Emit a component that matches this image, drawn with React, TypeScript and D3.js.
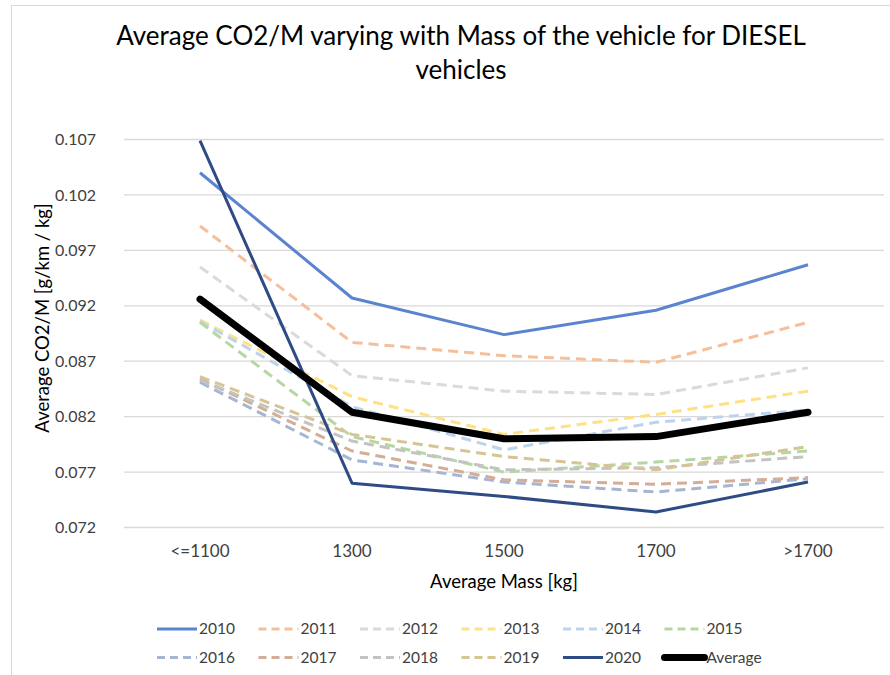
import React, { useEffect, useRef } from 'react';
import * as d3 from 'd3';

const categories = ['<=1100', '1300', '1500', '1700', '>1700'];
const yTicks = [0.072, 0.077, 0.082, 0.087, 0.092, 0.097, 0.102, 0.107];

const y2010 = [0.104, 0.0927, 0.0894, 0.0916, 0.0957];
const y2011 = [0.0992, 0.0887, 0.0875, 0.0869, 0.0905];
const y2012 = [0.0955, 0.0857, 0.0843, 0.084, 0.0864];
const y2013 = [0.0907, 0.0838, 0.0804, 0.0822, 0.0843];
const y2014 = [0.0906, 0.0829, 0.079, 0.0815, 0.0826];
const y2015 = [0.0905, 0.0802, 0.077, 0.0779, 0.0789];
const y2016 = [0.0851, 0.0781, 0.0761, 0.0752, 0.0764];
const y2017 = [0.0854, 0.0789, 0.0763, 0.0759, 0.0765];
const y2018 = [0.0853, 0.0798, 0.0772, 0.0774, 0.0784];
const y2019 = [0.0856, 0.0804, 0.0784, 0.0772, 0.0793];
const y2020 = [0.1069, 0.076, 0.0748, 0.0734, 0.0761];
const yAverage = [0.0926, 0.0824, 0.08, 0.0802, 0.0824];

const seriesNames = ['2010', '2011', '2012', '2013', '2014', '2015', '2016', '2017', '2018', '2019', '2020', 'Average'];
const seriesValues = [y2010, y2011, y2012, y2013, y2014, y2015, y2016, y2017, y2018, y2019, y2020, yAverage];

const FONT = 'Lato, "Open Sans", sans-serif';

export default function App() {
  const svgRef = useRef<SVGSVGElement>(null);

  useEffect(() => {
    const svg = d3.select(svgRef.current);
    svg.selectAll('*').remove();

    // look of each series (Excel-ish palette, lighter dashed years)
    const styles: Record<string, { color: string; width: number; dash: string | null }> = {
      '2010': { color: '#5b84d0', width: 3, dash: null },
      '2011': { color: '#f6bf9c', width: 3, dash: '10,6' },
      '2012': { color: '#dadada', width: 3, dash: '10,6' },
      '2013': { color: '#ffe083', width: 3, dash: '10,6' },
      '2014': { color: '#bcd3ee', width: 3, dash: '10,6' },
      '2015': { color: '#b7d7a2', width: 3, dash: '10,6' },
      '2016': { color: '#a5b5d3', width: 3, dash: '10,6' },
      '2017': { color: '#d3ad95', width: 3, dash: '10,6' },
      '2018': { color: '#c3c3c3', width: 3, dash: '10,6' },
      '2019': { color: '#d6c494', width: 3, dash: '10,6' },
      '2020': { color: '#2f4b86', width: 3, dash: null },
      Average: { color: '#000000', width: 7, dash: null },
    };

    // outer chart border
    svg.append('rect')
      .attr('x', 11.5).attr('y', 5.5)
      .attr('width', 1000).attr('height', 1000)
      .attr('fill', '#fff')
      .attr('stroke', '#d9d9d9');

    const x = d3.scaleBand().domain(categories).range([124, 884]);
    const y = d3.scaleLinear().domain([0.072, 0.107]).range([527.5, 139.5]);

    // gridlines
    svg.append('g')
      .selectAll('line')
      .data(yTicks)
      .enter()
      .append('line')
      .attr('x1', 124).attr('x2', 884)
      .attr('y1', (d) => y(d)).attr('y2', (d) => y(d))
      .attr('stroke', '#d9d9d9')
      .attr('stroke-width', 1.3);

    // y tick labels
    svg.append('g')
      .selectAll('text')
      .data(yTicks)
      .enter()
      .append('text')
      .attr('x', 96)
      .attr('y', (d) => y(d))
      .attr('dy', '0.35em')
      .attr('text-anchor', 'end')
      .attr('font-family', FONT)
      .attr('font-size', 16)
      .attr('fill', '#404040')
      .text((d) => d3.format('.3f')(d));

    // x tick labels
    svg.append('g')
      .selectAll('text')
      .data(categories)
      .enter()
      .append('text')
      .attr('x', (d) => x(d)! + x.bandwidth() / 2)
      .attr('y', 557)
      .attr('text-anchor', 'middle')
      .attr('font-family', FONT)
      .attr('font-size', 17)
      .attr('fill', '#404040')
      .text((d) => d);

    // axis titles
    svg.append('text')
      .attr('x', 504).attr('y', 588)
      .attr('text-anchor', 'middle')
      .attr('font-family', FONT)
      .attr('font-size', 18.5)
      .attr('fill', '#000')
      .text('Average Mass [kg]');

    svg.append('text')
      .attr('transform', 'translate(49,318) rotate(-90)')
      .attr('text-anchor', 'middle')
      .attr('font-family', FONT)
      .attr('font-size', 18.5)
      .attr('fill', '#000')
      .text('Average CO2/M [g/km / kg]');

    // title
    const title = svg.append('text')
      .attr('text-anchor', 'middle')
      .attr('font-family', FONT)
      .attr('font-size', 26)
      .attr('fill', '#000');
    title.append('tspan').attr('x', 461).attr('y', 45)
      .text('Average CO2/M varying with Mass of the vehicle for DIESEL');
    title.append('tspan').attr('x', 461).attr('y', 79).text('vehicles');

    // lines
    const line = d3.line<number>()
      .x((_, i) => x(categories[i])! + x.bandwidth() / 2)
      .y((d) => y(d));

    seriesNames.forEach((name, i) => {
      const s = styles[name];
      svg.append('path')
        .datum(seriesValues[i])
        .attr('d', line)
        .attr('fill', 'none')
        .attr('stroke', s.color)
        .attr('stroke-width', s.width)
        .attr('stroke-dasharray', s.dash)
        .attr('stroke-linejoin', 'round')
        .attr('stroke-linecap', name === 'Average' ? 'round' : 'butt');
    });

    // legend, 6 per row
    const legend = svg.append('g');
    seriesNames.forEach((name, i) => {
      const s = styles[name];
      const lx = 157 + (i % 6) * 101.5;
      const ly = 629 + Math.floor(i / 6) * 28.5;
      legend.append('line')
        .attr('x1', lx).attr('x2', lx + 40)
        .attr('y1', ly).attr('y2', ly)
        .attr('stroke', s.color)
        .attr('stroke-width', s.width)
        .attr('stroke-dasharray', s.dash ? '8,5' : null)
        .attr('stroke-linecap', name === 'Average' ? 'round' : 'butt');
      legend.append('text')
        .attr('x', lx + 42).attr('y', ly)
        .attr('dy', '0.35em')
        .attr('font-family', FONT)
        .attr('font-size', 15.5)
        .attr('fill', '#404040')
        .text(name);
    });
  }, []);

  return (
    <svg
      ref={svgRef}
      width={890}
      height={675}
      style={{ position: 'absolute', left: 0, top: 0, background: '#fff' }}
    ></svg>
  );
}
